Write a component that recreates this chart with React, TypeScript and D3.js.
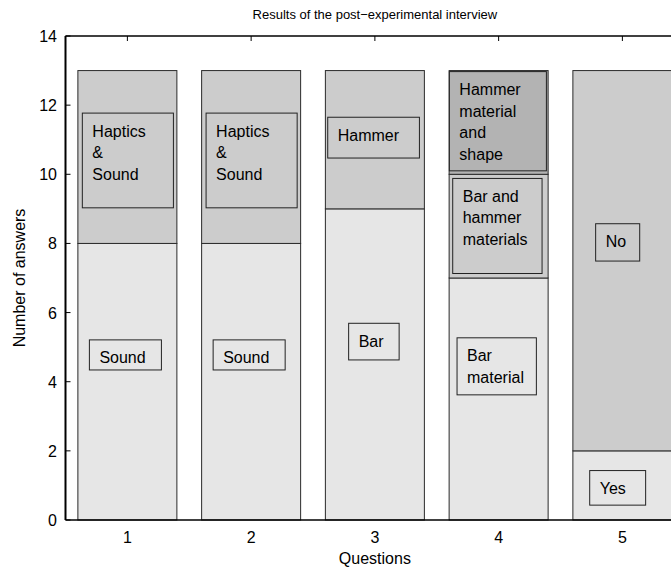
import React from "react";
import * as d3 from "d3";

const questions = [1, 2, 3, 4, 5];
const lowerValues = [8, 8, 9, 7, 2];
const middleValues = [5, 5, 4, 3, 11];
const upperValues = [0, 0, 0, 3, 0];
const yTicks = [0, 2, 4, 6, 8, 10, 12, 14];
const titleText = "Results of the post\u2212experimental interview";
const xLabel = "Questions";
const yLabel = "Number of answers";

// annotation boxes: offsets relative to question, in data units
const annotations = [
  { q: 1, lines: ["Haptics", "&", "Sound"], dx0: -0.364, dx1: 0.372, yTop: 11.77, yBot: 9.03, fill: "none" },
  { q: 1, lines: ["Sound"], dx0: -0.307, dx1: 0.275, yTop: 5.21, yBot: 4.34, fill: "none" },
  { q: 2, lines: ["Haptics", "&", "Sound"], dx0: -0.364, dx1: 0.372, yTop: 11.77, yBot: 9.03, fill: "none" },
  { q: 2, lines: ["Sound"], dx0: -0.307, dx1: 0.275, yTop: 5.21, yBot: 4.34, fill: "none" },
  { q: 3, lines: ["Hammer"], dx0: -0.381, dx1: 0.36, yTop: 11.65, yBot: 10.47, fill: "none" },
  { q: 3, lines: ["Bar"], dx0: -0.212, dx1: 0.196, yTop: 5.69, yBot: 4.63, fill: "none" },
  { q: 4, lines: ["Hammer", "material", "and", "shape"], dx0: -0.398, dx1: 0.386, yTop: 12.97, yBot: 10.1, fill: "#b3b3b3" },
  { q: 4, lines: ["Bar and", "hammer", "materials"], dx0: -0.371, dx1: 0.351, yTop: 9.88, yBot: 7.13, fill: "none" },
  { q: 4, lines: ["Bar", "material"], dx0: -0.336, dx1: 0.305, yTop: 5.27, yBot: 3.62, fill: "none" },
  { q: 5, lines: ["No"], dx0: -0.216, dx1: 0.14, yTop: 8.57, yBot: 7.49, fill: "none" },
  { q: 5, lines: ["Yes"], dx0: -0.264, dx1: 0.188, yTop: 1.43, yBot: 0.43, fill: "none" },
];

const segColors = ["#e6e6e6", "#cccccc", "#b3b3b3"];
const FONT = "'Liberation Sans', Arial, Helvetica, sans-serif";

export default function App() {
  const W = 671, H = 570;
  const x = d3.scaleLinear().domain([0.5, 5.5]).range([65.5, 684.25]);
  const y = d3.scaleLinear().domain([0, 14]).range([520, 36]);
  const barW = 0.8;

  const stacks = questions.map((q, i) => {
    const vals = [lowerValues[i], middleValues[i], upperValues[i]];
    let acc = 0;
    return vals.map((v, k) => {
      const s = { q, y0: acc, y1: acc + v, k };
      acc += v;
      return s;
    }).filter((s) => s.y1 > s.y0);
  });

  return (
    <svg width={W} height={H} style={{ position: "absolute", left: 0, top: 0, background: "#fff" }} fontFamily={FONT}>
      <rect x={0} y={0} width={W} height={H} fill="#fff" />
      {/* top ticks */}
      {questions.map((q) => (
        <line key={"tt" + q} x1={x(q)} x2={x(q)} y1={y(14)} y2={y(14) + 5} stroke="#000" strokeWidth={1} />
      ))}
      {/* y ticks */}
      {yTicks.map((t) => (
        <line key={"yt" + t} x1={x(0.5)} x2={x(0.5) + 5} y1={y(t)} y2={y(t)} stroke="#000" strokeWidth={1} />
      ))}
      {/* bars */}
      {stacks.map((segs) =>
        segs.map((s) => (
          <rect
            key={`b${s.q}-${s.k}`}
            x={x(s.q - barW / 2)}
            width={x(s.q + barW / 2) - x(s.q - barW / 2)}
            y={y(s.y1)}
            height={y(s.y0) - y(s.y1)}
            fill={segColors[s.k]}
            stroke="#2a2a2a"
            strokeWidth={1}
          />
        ))
      )}
      {/* annotations */}
      {annotations.map((a, i) => {
        const bx = x(a.q + a.dx0);
        const bw = x(a.q + a.dx1) - bx;
        const by = y(a.yTop);
        const bh = y(a.yBot) - by;
        return (
          <g key={"a" + i}>
            <rect x={bx} y={by} width={bw} height={bh} fill={a.fill} stroke="#222" strokeWidth={1} />
            {a.lines.map((ln, j) => (
              <text key={j} x={bx + 10} y={by + 23.5 + j * 21.5} fontSize={16} fill="#000">
                {ln}
              </text>
            ))}
          </g>
        );
      })}
      {/* axis lines */}
      <line x1={x(0.5)} x2={W} y1={y(0)} y2={y(0)} stroke="#000" strokeWidth={1.4} />
      <line x1={x(0.5)} x2={W} y1={y(14)} y2={y(14)} stroke="#000" strokeWidth={1.4} />
      <line x1={x(0.5)} x2={x(0.5)} y1={y(14)} y2={y(0)} stroke="#000" strokeWidth={2} />
      {/* y tick labels */}
      {yTicks.map((t) => (
        <text key={"yl" + t} x={57} y={y(t) + 6} textAnchor="end" fontSize={16} fill="#000">
          {t}
        </text>
      ))}
      {/* x tick labels */}
      {questions.map((q) => (
        <text key={"xl" + q} x={x(q)} y={543} textAnchor="middle" fontSize={16} fill="#000">
          {q}
        </text>
      ))}
      <text x={x(3)} y={564} textAnchor="middle" fontSize={16} fill="#000">{xLabel}</text>
      <text transform={`translate(25, ${(y(0) + y(14)) / 2}) rotate(-90)`} textAnchor="middle" fontSize={16} fill="#000">
        {yLabel}
      </text>
      <text x={x(3)} y={19} textAnchor="middle" fontSize={13} fill="#000">{titleText}</text>
    </svg>
  );
}
